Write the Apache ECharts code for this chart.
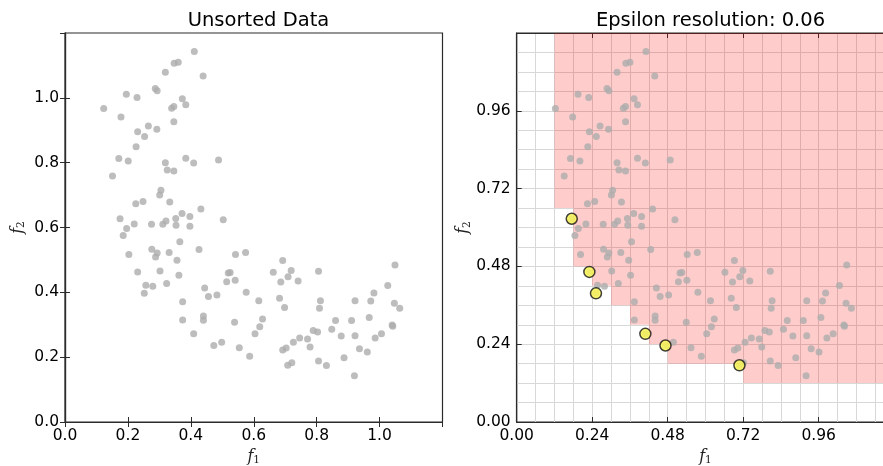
<!DOCTYPE html>
<html>
<head>
<meta charset="utf-8">
<title>Epsilon box dominance</title>
<script src="https://cdn.jsdelivr.net/npm/echarts@6/dist/echarts.min.js"></script>
<style>
  html, body { margin: 0; padding: 0; background: #fff; }
  #chart { width: 883px; height: 466px; }
</style>
</head>
<body>
<div id="chart"></div>
<script>
// Objective values of the population (f1, f2)
const f1 = [
  0.411, 0.347, 0.360, 0.319, 0.439, 0.287, 0.293, 0.195, 0.229, 0.373,
  0.384, 0.339, 0.346, 0.123, 0.178, 0.346, 0.265, 0.292, 0.231, 0.253,
  0.226, 0.171, 0.201, 0.384, 0.488, 0.319, 0.409, 0.151, 0.325, 0.346,
  0.305, 0.301, 0.225, 0.248, 0.333, 0.372, 0.432, 0.397, 0.175, 0.220,
  0.275, 0.311, 0.321, 0.352, 0.353, 0.397, 0.503, 0.196,
  0.185, 0.203, 0.276, 0.293, 0.288, 0.331, 0.356, 0.365, 0.426, 0.542,
  0.574, 0.231, 0.302, 0.362, 0.323, 0.257, 0.279, 0.252, 0.444, 0.456,
  0.483, 0.519, 0.525, 0.514, 0.541, 0.576, 0.662, 0.616, 0.374, 0.440,
  0.440, 0.374, 0.539, 0.628, 0.619, 0.409, 0.604, 0.473, 0.498, 0.554,
  0.587,
  0.692, 0.686, 0.682, 0.698, 0.709, 0.719, 0.741, 0.806, 0.812, 0.809,
  0.692, 0.703, 0.708, 0.721, 0.726, 0.746, 0.771, 0.779, 0.789, 0.803,
  0.806, 0.831, 0.848, 0.860, 0.878, 0.887, 0.911, 0.922, 0.922, 0.936,
  0.920, 0.961, 0.967, 0.972, 0.982, 0.986, 1.006, 1.026, 1.040, 1.042,
  1.049, 1.047, 1.064
];
const f2 = [
  1.143, 1.107, 1.110, 1.079, 1.067, 1.029, 1.022, 1.011, 1.001, 0.997,
  0.979, 0.968, 0.973, 0.967, 0.941, 0.926, 0.913, 0.903, 0.895, 0.881,
  0.849, 0.813, 0.805, 0.814, 0.808, 0.800, 0.799, 0.759, 0.777, 0.774,
  0.715, 0.700, 0.673, 0.680, 0.679, 0.643, 0.657, 0.634, 0.627, 0.611,
  0.610, 0.610, 0.620, 0.628, 0.607, 0.604, 0.624, 0.597,
  0.575, 0.517, 0.533, 0.521, 0.509, 0.523, 0.499, 0.556, 0.532, 0.517,
  0.523, 0.463, 0.466, 0.453, 0.427, 0.422, 0.419, 0.397, 0.413, 0.387,
  0.392, 0.460, 0.461, 0.433, 0.437, 0.400, 0.462, 0.374, 0.371, 0.327,
  0.314, 0.315, 0.308, 0.318, 0.294, 0.272, 0.272, 0.236, 0.246, 0.229,
  0.203,
  0.498, 0.432, 0.382, 0.353, 0.448, 0.467, 0.435, 0.465, 0.374, 0.351,
  0.222, 0.228, 0.175, 0.183, 0.246, 0.259, 0.256, 0.231, 0.282, 0.278,
  0.188, 0.174, 0.286, 0.313, 0.265, 0.198, 0.313, 0.374, 0.266, 0.226,
  0.143, 0.216, 0.322, 0.373, 0.398, 0.259, 0.272, 0.421, 0.299, 0.295,
  0.484, 0.366, 0.351
];

// Epsilon-nondominated archive
const archiveF1 = [0.175, 0.231, 0.252, 0.409, 0.473, 0.708];
const archiveF2 = [0.627, 0.463, 0.397, 0.272, 0.236, 0.175];

const epsilon = 0.06;
const axisMax = 1.2;

// Tick steps
const leftTickStep = 0.2;
const rightTickStep = 0.24;

const points = f1.map((x, i) => [x, f2[i]]);
const archive = archiveF1.map((x, i) => [x, archiveF2[i]]);

// Region dominated by the epsilon boxes of the archive, as a staircase outline.
function dominatedOutline() {
  const boxes = archive.map(p => [Math.floor(p[0] / epsilon), Math.floor(p[1] / epsilon)]);
  const nCols = Math.round(axisMax / epsilon);
  const outline = [];
  let first = null;
  for (let i = 0; i < nCols; i++) {
    let h = Infinity;
    boxes.forEach(b => {
      if (i >= b[0]) h = Math.min(h, b[1] + 1);
      if (i >= b[0] + 1) h = Math.min(h, b[1]);
    });
    if (!isFinite(h)) continue;
    if (first === null) { first = i; outline.push([i * epsilon, axisMax]); }
    outline.push([i * epsilon, h * epsilon]);
    outline.push([(i + 1) * epsilon, h * epsilon]);
  }
  outline.push([nCols * epsilon, axisMax]);
  return outline;
}
const outline = dominatedOutline();

const FONT = 'DejaVu Sans';
const AXIS_COLOR = '#2b2b2b';
const labelStyle = { fontFamily: FONT, fontSize: 15.5, color: '#000', margin: 6 };

const nameRich = {
  f: { fontFamily: 'DejaVu Serif', fontStyle: 'italic', fontSize: 16, color: '#222' },
  s: { fontFamily: 'DejaVu Serif', fontSize: 10.5, color: '#222', padding: [7, 0, 0, 0] }
};

function mainAxis(gridIndex, step, digits, name, nameGap, position) {
  return {
    type: 'value', gridIndex, min: 0, max: axisMax, interval: step, position,
    axisLine: { show: true, lineStyle: { color: AXIS_COLOR, width: 1.2 } },
    axisTick: { show: true, inside: true, length: 5, lineStyle: { color: AXIS_COLOR } },
    axisLabel: Object.assign({ showMaxLabel: false, formatter: v => v.toFixed(digits) }, labelStyle),
    splitLine: { show: false },
    name, nameLocation: 'middle', nameGap,
    nameTextStyle: { rich: nameRich }
  };
}

function mirrorAxis(gridIndex, step, position) {
  return {
    type: 'value', gridIndex, min: 0, max: axisMax, interval: step, position,
    axisLine: { show: true, lineStyle: { color: AXIS_COLOR, width: 1.2 } },
    axisTick: { show: true, inside: true, length: 5, lineStyle: { color: AXIS_COLOR } },
    axisLabel: { show: false },
    splitLine: { show: false }
  };
}

const gridLine = { show: true, lineStyle: { color: '#d8d8d8', width: 1 } };

const rightX = mainAxis(1, rightTickStep, 2, '{f|f}{s|1}', 26, 'bottom');
rightX.splitLine = gridLine;
rightX.minorTick = { show: false, splitNumber: 4 };
rightX.minorSplitLine = gridLine;
const rightY = mainAxis(1, rightTickStep, 2, '{f|f}{s|2}', 44, 'left');
rightY.splitLine = gridLine;
rightY.minorTick = { show: false, splitNumber: 4 };
rightY.minorSplitLine = gridLine;

const chart = echarts.init(document.getElementById('chart'), null, { renderer: 'canvas' });

const gridBase = {
  top: 33, width: 377.5, height: 389, show: true,
  borderColor: AXIS_COLOR, borderWidth: 1.2, backgroundColor: 'transparent',
  containLabel: false, outerBoundsMode: 'none'
};

chart.setOption({
  animation: false,
  backgroundColor: '#fff',
  title: [
    { text: 'Unsorted Data', left: 253.5, top: 6, textAlign: 'center',
      textStyle: { fontFamily: FONT, fontSize: 19.5, fontWeight: 'normal', color: '#000' } },
    { text: 'Epsilon resolution: 0.06', left: 705.5, top: 6, textAlign: 'center',
      textStyle: { fontFamily: FONT, fontSize: 19.5, fontWeight: 'normal', color: '#000' } }
  ],
  grid: [
    Object.assign({ left: 65 }, gridBase),
    Object.assign({ left: 516.7 }, gridBase)
  ],
  xAxis: [
    mainAxis(0, leftTickStep, 1, '{f|f}{s|1}', 26, 'bottom'),
    mirrorAxis(0, leftTickStep, 'top'),
    rightX,
    mirrorAxis(1, rightTickStep, 'top')
  ],
  yAxis: [
    mainAxis(0, leftTickStep, 1, '{f|f}{s|2}', 38, 'left'),
    mirrorAxis(0, leftTickStep, 'right'),
    rightY
  ],
  series: [
    {
      type: 'scatter', xAxisIndex: 0, yAxisIndex: 0, data: points,
      symbolSize: 7, itemStyle: { color: '#adadad' }, z: 3
    },
    {
      type: 'custom', xAxisIndex: 2, yAxisIndex: 2, clip: true, z: 1,
      data: [[0, 0]],
      renderItem: (params, api) => ({
        type: 'polygon',
        shape: { points: outline.map(p => api.coord(p)) },
        style: { fill: 'rgba(255, 0, 0, 0.2)' }
      }),
      silent: true
    },
    {
      type: 'scatter', xAxisIndex: 2, yAxisIndex: 2, data: points,
      symbolSize: 7, itemStyle: { color: '#adadad' }, z: 3
    },
    {
      type: 'scatter', xAxisIndex: 2, yAxisIndex: 2, data: archive,
      symbolSize: 11, itemStyle: { color: '#fcf850', borderColor: '#111', borderWidth: 1.5 }, z: 4
    }
  ]
});
</script>
</body>
</html>
